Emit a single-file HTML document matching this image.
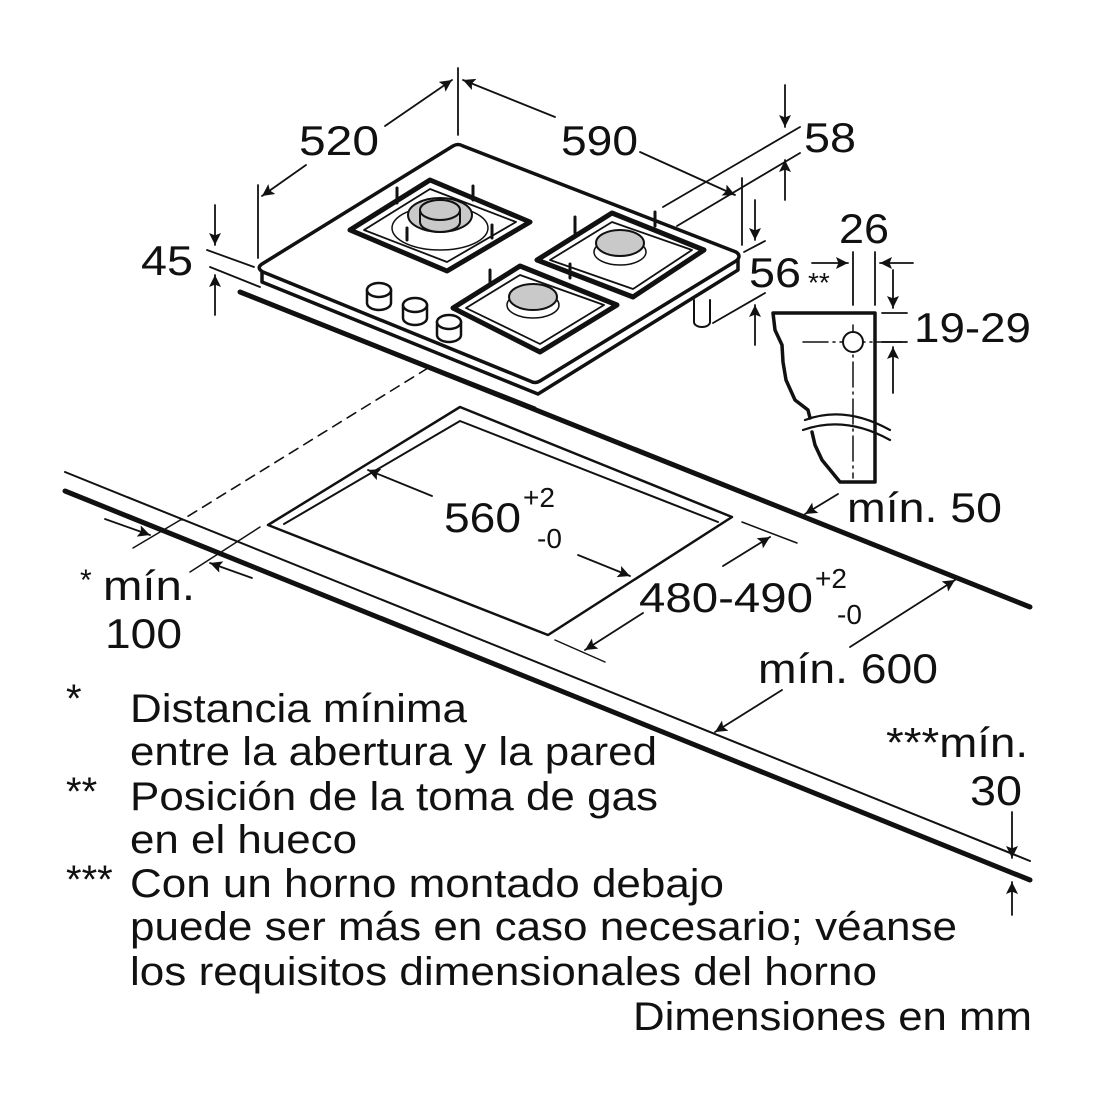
<!DOCTYPE html>
<html><head><meta charset="utf-8"><style>
html,body{margin:0;padding:0;background:#fff}
svg{display:block}
text{font-family:"Liberation Sans",sans-serif;fill:#111}
</style></head><body>
<svg width="1100" height="1100" viewBox="0 0 1100 1100" xmlns="http://www.w3.org/2000/svg">
<defs>
<marker id="b" viewBox="0 0 10 10" refX="10" refY="5" markerWidth="19" markerHeight="12" markerUnits="userSpaceOnUse" orient="auto"><path d="M0,0 L10,5 L0,10 L2,5 Z" fill="#111"/></marker>
</defs>
<g stroke="#111" fill="none" stroke-linecap="round" stroke-linejoin="round">
<line x1="65" y1="472" x2="1030" y2="861" stroke-width="2"/>
<line x1="65" y1="491" x2="1030" y2="880" stroke-width="5"/>
<line x1="240" y1="292" x2="1030" y2="607" stroke-width="5"/>
<line x1="428" y1="368" x2="182" y2="520" stroke-width="1.6" stroke-dasharray="10,7"/>
<polygon points="460,407 732,517 548,635 268,525" stroke-width="2.5"/>
<polyline points="284,524 460,421 718,522" stroke-width="2"/>
<line x1="133" y1="548" x2="182" y2="519" stroke-width="1.5"/>
<line x1="190" y1="572" x2="260" y2="527" stroke-width="1.5"/>
<line x1="742" y1="522" x2="797" y2="543" stroke-width="1.5"/>
<line x1="555" y1="640" x2="605" y2="662" stroke-width="1.5"/>
<g stroke-width="1.8">
<line x1="105" y1="519" x2="150" y2="535" marker-end="url(#b)"/>
<line x1="252" y1="578" x2="210" y2="563" marker-end="url(#b)"/>
<line x1="432" y1="496" x2="368" y2="470" marker-end="url(#b)"/>
<line x1="578" y1="555" x2="630" y2="576" marker-end="url(#b)"/>
<line x1="723" y1="566" x2="770" y2="537" marker-end="url(#b)"/>
<line x1="643" y1="613" x2="585" y2="650" marker-end="url(#b)"/>
<line x1="850" y1="647" x2="955" y2="580" marker-end="url(#b)"/>
<line x1="782" y1="690" x2="715" y2="732" marker-end="url(#b)"/>
<line x1="838" y1="494" x2="805" y2="514" marker-end="url(#b)"/>
<line x1="1012" y1="812" x2="1012" y2="858" marker-end="url(#b)"/>
<line x1="1012" y1="915" x2="1012" y2="882" marker-end="url(#b)"/>
<line x1="458" y1="68" x2="458" y2="135"/>
<line x1="385" y1="126" x2="452" y2="80" marker-end="url(#b)"/>
<line x1="306" y1="165" x2="262" y2="196" marker-end="url(#b)"/>
<line x1="258" y1="185" x2="258" y2="258"/>
<line x1="555" y1="117" x2="463" y2="80" marker-end="url(#b)"/>
<line x1="640" y1="152" x2="735" y2="195" marker-end="url(#b)"/>
<line x1="742" y1="178" x2="742" y2="245"/>
<line x1="663" y1="207" x2="800" y2="127"/>
<line x1="677" y1="226" x2="800" y2="153"/>
<line x1="785" y1="85" x2="785" y2="127" marker-end="url(#b)"/>
<line x1="785" y1="200" x2="785" y2="160" marker-end="url(#b)"/>
<line x1="744" y1="252" x2="765" y2="241"/>
<line x1="713" y1="323" x2="765" y2="293"/>
<line x1="755" y1="200" x2="755" y2="240" marker-end="url(#b)"/>
<line x1="755" y1="345" x2="755" y2="305" marker-end="url(#b)"/>
<line x1="207" y1="250" x2="254" y2="267"/>
<line x1="210" y1="267" x2="260" y2="287"/>
<line x1="215" y1="205" x2="215" y2="245" marker-end="url(#b)"/>
<line x1="215" y1="315" x2="215" y2="275" marker-end="url(#b)"/>
<line x1="853" y1="252" x2="853" y2="305"/>
<line x1="875" y1="252" x2="875" y2="305"/>
<line x1="812" y1="263" x2="848" y2="263" marker-end="url(#b)"/>
<line x1="913" y1="263" x2="880" y2="263" marker-end="url(#b)"/>
<line x1="882" y1="313" x2="907" y2="313"/>
<line x1="882" y1="342" x2="907" y2="342"/>
<line x1="893" y1="270" x2="893" y2="308" marker-end="url(#b)"/>
<line x1="893" y1="393" x2="893" y2="347" marker-end="url(#b)"/>
</g>
<path d="M875,313 L773,313 L775,330 L782,345 L783,362 L786,380 L795,400 L808,410 L810,418 M812,432 L815,445 L822,460 L840,482 L875,482 L875,313" stroke-width="3.5"/>
<path d="M805,420 Q845,405 890,430 M803,430 Q845,415 890,440" stroke-width="2.2"/>
<line x1="853" y1="325" x2="853" y2="478" stroke-width="1.5" stroke-dasharray="25,5,2,5"/>
<line x1="803" y1="342" x2="905" y2="342" stroke-width="1.5" stroke-dasharray="25,5,2,5"/>
<circle cx="853" cy="342" r="10" stroke-width="2" fill="#fff"/>
<path d="M262,270 L262,282 L538,394 L738,270 L738,258" stroke-width="3.5" fill="#fff"/>
<line x1="250" y1="296" x2="535" y2="408" stroke-width="3"/>
<path d="M453,146 Q458,143 463,146 L736,252 Q742,256 736,261 L540,381 Q535,384 530,381 L263,272 Q256,268 262,264 Z" stroke-width="3.5" fill="#fff"/>
<path d="M694,300 L694,322 A8,5 0 0 0 710,322 L710,300" stroke-width="2" fill="#fff"/>
<g stroke-width="5" fill="#fff">
<polygon points="350,230 430,180 530,222 447,271"/>
<polygon points="537,260 612,213 704,250 633,297"/>
<polygon points="453,308 520,266 617,305 540,352"/>
</g>
<g stroke-width="1.8">
<polygon points="364,230 430,189 516,222 447,262"/>
<polygon points="550,260 612,222 692,250 633,289"/>
<polygon points="466,308 520,275 604,305 540,344"/>
</g>
<ellipse cx="440" cy="228" rx="48" ry="22" stroke-width="1.5"/>
<ellipse cx="440" cy="215" rx="32" ry="17" stroke-width="2" fill="#c9c9c9"/>
<path d="M420,210 A20,10 0 0 1 460,210 L460,222 A20,10 0 0 1 420,222 Z" stroke-width="2" fill="#c9c9c9"/>
<ellipse cx="440" cy="210" rx="20" ry="10" stroke-width="2" fill="#c9c9c9"/>
<ellipse cx="620" cy="252" rx="26" ry="13" stroke-width="1.5"/>
<ellipse cx="620" cy="243" rx="24" ry="13" stroke-width="2" fill="#c9c9c9"/>
<ellipse cx="533" cy="305" rx="26" ry="13" stroke-width="1.5"/>
<ellipse cx="533" cy="297" rx="24" ry="13" stroke-width="2" fill="#c9c9c9"/>
<g stroke-width="3">
<line x1="397" y1="188" x2="397" y2="203"/><line x1="473" y1="186" x2="473" y2="200"/>
<line x1="575" y1="217" x2="575" y2="233"/><line x1="655" y1="212" x2="655" y2="226"/>
<line x1="490" y1="270" x2="490" y2="285"/><line x1="570" y1="264" x2="570" y2="278"/>
<line x1="407" y1="240" x2="407" y2="228"/><line x1="492" y1="238" x2="492" y2="225"/>
</g>
<g stroke-width="2.5" fill="#fff">
<path d="M367,290 L367,303 A12,7 0 0 0 391,303 L391,290"/><ellipse cx="379" cy="290" rx="12" ry="7"/>
<path d="M403,305 L403,318 A12,7 0 0 0 427,318 L427,305"/><ellipse cx="415" cy="305" rx="12" ry="7"/>
<path d="M437,322 L437,335 A12,7 0 0 0 461,335 L461,322"/><ellipse cx="449" cy="322" rx="12" ry="7"/>
</g>
</g>
<g font-size="42">
<text x="299" y="155" textLength="80" lengthAdjust="spacingAndGlyphs">520</text>
<text x="561" y="155" textLength="77" lengthAdjust="spacingAndGlyphs">590</text>
<text x="804" y="152" textLength="52" lengthAdjust="spacingAndGlyphs">58</text>
<text x="141" y="275" textLength="52" lengthAdjust="spacingAndGlyphs">45</text>
<text x="749" y="287" textLength="52" lengthAdjust="spacingAndGlyphs">56</text>
<text x="839" y="243" textLength="50" lengthAdjust="spacingAndGlyphs">26</text>
<text x="914" y="342" textLength="117" lengthAdjust="spacingAndGlyphs">19-29</text>
<text x="444" y="532" textLength="77" lengthAdjust="spacingAndGlyphs">560</text>
<text x="639" y="612" textLength="174" lengthAdjust="spacingAndGlyphs">480-490</text>
<text x="847" y="522" textLength="155" lengthAdjust="spacingAndGlyphs">mín. 50</text>
<text x="758" y="683" textLength="180" lengthAdjust="spacingAndGlyphs">mín. 600</text>
<text x="103" y="600" textLength="92" lengthAdjust="spacingAndGlyphs">mín.</text>
<text x="105" y="648" textLength="77" lengthAdjust="spacingAndGlyphs">100</text>
<text x="886" y="757" textLength="142" lengthAdjust="spacingAndGlyphs">***mín.</text>
<text x="970" y="805" textLength="52" lengthAdjust="spacingAndGlyphs">30</text>
</g>
<text x="80" y="590" font-size="30">*</text>
<text x="808" y="292" font-size="28">**</text>
<g font-size="28">
<text x="523" y="507">+2</text><text x="537" y="548">-0</text>
<text x="815" y="588">+2</text><text x="837" y="624">-0</text>
</g>
<g font-size="40">
<text x="66" y="712">*</text>
<text x="130" y="722" textLength="337" lengthAdjust="spacingAndGlyphs">Distancia mínima</text>
<text x="130" y="765" textLength="527" lengthAdjust="spacingAndGlyphs">entre la abertura y la pared</text>
<text x="66" y="805">**</text>
<text x="130" y="810" textLength="528" lengthAdjust="spacingAndGlyphs">Posición de la toma de gas</text>
<text x="130" y="853" textLength="227" lengthAdjust="spacingAndGlyphs">en el hueco</text>
<text x="66" y="893">***</text>
<text x="130" y="897" textLength="594" lengthAdjust="spacingAndGlyphs">Con un horno montado debajo</text>
<text x="130" y="940" textLength="827" lengthAdjust="spacingAndGlyphs">puede ser más en caso necesario; véanse</text>
<text x="130" y="985" textLength="747" lengthAdjust="spacingAndGlyphs">los requisitos dimensionales del horno</text>
<text x="633" y="1030" textLength="399" lengthAdjust="spacingAndGlyphs">Dimensiones en mm</text>
</g>
</svg>
</body></html>
